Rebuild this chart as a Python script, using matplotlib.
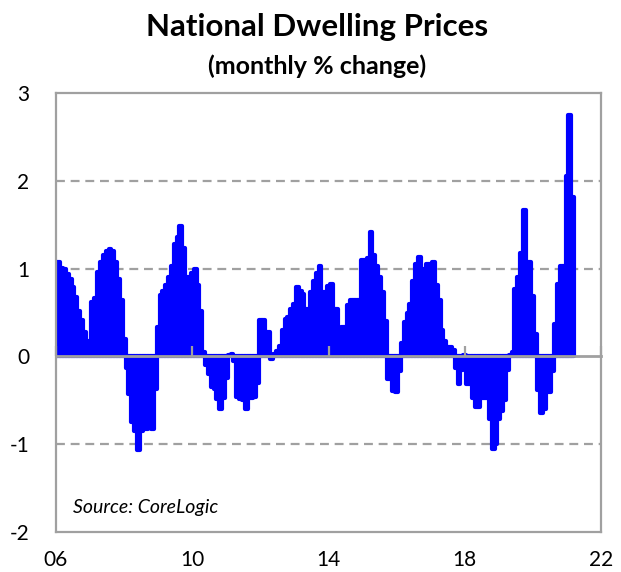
import matplotlib
matplotlib.use("Agg")
import matplotlib.pyplot as plt
import numpy as np

# ---- data (monthly % change) ----
start_year = 2006
values = [
    1.08, 1.08, 1.01, 1.00, 0.94, 0.88, 0.79, 0.68, 0.52, 0.41, 0.28, 0.18,
    0.15, 0.62, 0.66, 0.96, 1.07, 1.15, 1.20, 1.22, 1.20, 1.07, 0.88, 0.64,
    0.20, -0.13, -0.43, -0.75, -0.85, -1.07, -0.85, -0.83, -0.83, -0.80, -0.83, -0.37,
    0.34, 0.70, 0.75, 0.81, 0.90, 1.03, 1.28, 1.36, 1.49, 1.24, 0.90, 0.90,
    0.95, 1.00, 0.81, 0.52, 0.05, -0.10, -0.20, -0.35, -0.37, -0.49, -0.60, -0.47,
    -0.25, 0.02, 0.03, -0.05, -0.46, -0.49, -0.50, -0.60, -0.47, -0.47, -0.46, -0.30,
    0.41, 0.41, 0.28, 0.28, -0.03, 0.03, 0.06, 0.12, 0.30, 0.43, 0.45, 0.54,
    0.60, 0.79, 0.75, 0.71, 0.54, 0.54, 0.73, 0.86, 0.95, 1.03, 0.73, 0.73,
    0.80, 0.83, 0.54, 0.54, 0.24, 0.34, 0.34, 0.58, 0.64, 0.64, 0.64, 0.64,
    1.10, 1.10, 1.12, 1.42, 1.15, 1.03, 0.90, 0.73, 0.40, -0.26, -0.26, -0.39,
    -0.40, -0.17, 0.15, 0.39, 0.50, 0.60, 0.86, 1.05, 1.13, 1.00, 1.00, 1.05,
    1.05, 1.08, 0.81, 0.64, 0.30, 0.17, 0.11, 0.11, 0.07, -0.13, -0.32, -0.15,
    0.02, -0.32, -0.32, -0.47, -0.58, -0.58, -0.47, -0.47, -0.47, -0.71, -1.05, -1.00,
    -0.71, -0.62, -0.50, -0.15, 0.02, 0.05, 0.77, 0.90, 1.18, 1.67, 1.08, 1.07,
    0.69, 0.26, -0.38, -0.64, -0.60, -0.40, -0.40, -0.17, 0.37, 0.82, 1.03, 1.03,
    2.05, 2.75, 1.82,
]
x_ticks = [2006, 2010, 2014, 2018, 2022]
x_labels = ["06", "10", "14", "18", "22"]
y_ticks = [-2, -1, 0, 1, 2, 3]
y_labels = ["-2", "-1", "0", "1", "2", "3"]
grid_levels = [-1, 1, 2]
title = "National Dwelling Prices"
subtitle = "(monthly % change)"
source = "Source: CoreLogic"

# ---- style ----
FONT = ["Lato", "DejaVu Sans"]
plt.rcParams["font.family"] = FONT
BLUE = "#0000FF"
GREY = "#a0a0a0"

x = start_year + np.arange(len(values)) / 12.0

fig = plt.figure(figsize=(6.21, 5.72), dpi=100)
ax = fig.add_axes([56 / 621, 40 / 572, 545 / 621, 439 / 572])

ax.bar(x, values, width=1 / 12, color=BLUE, edgecolor=BLUE,
       linewidth=3.0, joinstyle="round", zorder=2)

ax.set_xlim(x_ticks[0], x_ticks[-1])
ax.set_ylim(y_ticks[0], y_ticks[-1])

for g in grid_levels:
    ax.axhline(g, color=GREY, lw=1.6, ls=(0, (4, 2.6)), zorder=1)

for s in ax.spines.values():
    s.set_color(GREY)
    s.set_linewidth(1.6)

ax.set_yticks(y_ticks)
ax.set_yticklabels(y_labels)
ax.set_xticks(x_ticks)
ax.set_xticklabels(x_labels)
ax.tick_params(axis="both", length=0, labelsize=15, colors="black")
ax.tick_params(axis="x", pad=13)
ax.tick_params(axis="y", pad=19)
for lab in ax.get_yticklabels():
    lab.set_horizontalalignment("right")

# zero axis with small upward tick marks
loc0 = (0 - y_ticks[0]) / (y_ticks[-1] - y_ticks[0])
sec = ax.secondary_xaxis(loc0)
sec.set_xticks(x_ticks)
sec.tick_params(direction="in", length=7, width=1.6, colors=GREY,
                labelbottom=False, labeltop=False)
sec.spines["bottom"].set_color(GREY)
sec.spines["bottom"].set_linewidth(2.0)
sec.set_zorder(5)

ax.text(0.031, 0.055, source, transform=ax.transAxes, fontsize=14,
        style="italic", ha="left", va="center")

fig.text(0.51, 0.953, title, ha="center", va="center",
         fontsize=22.5, fontweight="bold")
fig.text(0.51, 0.885, subtitle, ha="center", va="center",
         fontsize=18, fontweight="bold")

fig.savefig("out.png", dpi=100)
